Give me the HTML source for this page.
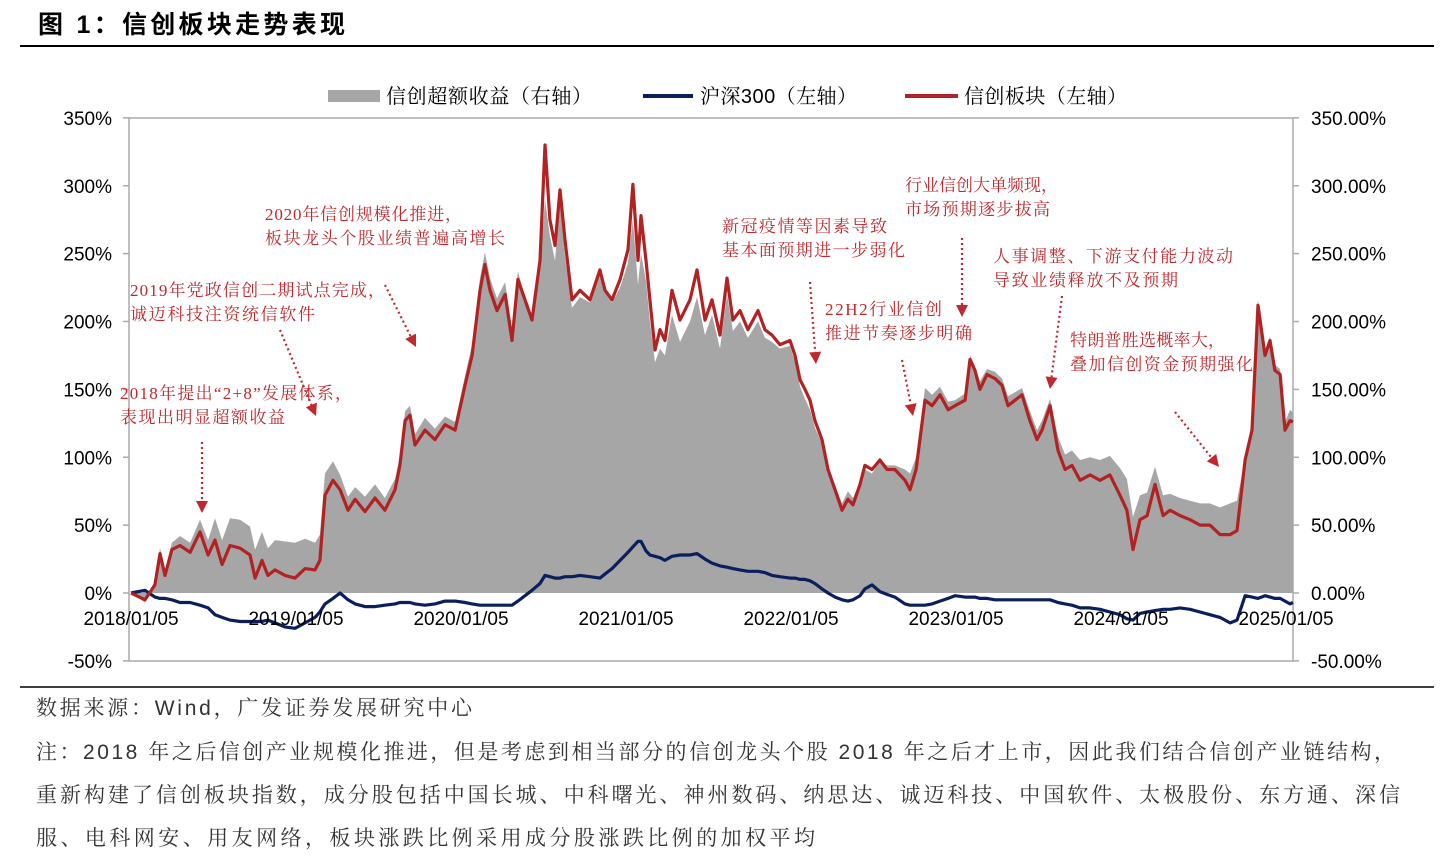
<!DOCTYPE html>
<html><head><meta charset="utf-8"><style>
body{margin:0;background:#fff;width:1444px;height:868px;overflow:hidden}
svg{display:block}
.ax{font-family:"Liberation Sans","Noto Sans CJK SC",sans-serif;font-size:19px;fill:#000}
.an{font-family:"Liberation Serif","Noto Serif CJK SC",serif;font-size:17px;fill:#c0282d}
.lg{font-family:"Liberation Sans","Noto Serif CJK SC",serif;font-size:20px;fill:#000}
.ft{font-family:"Liberation Sans","Noto Serif CJK SC",serif;font-size:21px;fill:#333}
</style></head><body>
<svg id="chart" width="1444" height="868">
<text x="38" y="33" textLength="307" lengthAdjust="spacing" style="font-family:'Liberation Sans','Noto Sans CJK SC',sans-serif;font-size:25px;font-weight:bold;fill:#000">图 1：信创板块走势表现</text>
<line x1="20" y1="46" x2="1434" y2="46" stroke="#000" stroke-width="2"/>
<g>
<rect x="328" y="90" width="52" height="12" fill="#a6a6a6"/>
<text class="lg" x="386" y="103" textLength="206" lengthAdjust="spacing">信创超额收益（右轴）</text>
<line x1="643" y1="96" x2="693" y2="96" stroke="#0b1f5c" stroke-width="4"/>
<text class="lg" x="700" y="103" textLength="157" lengthAdjust="spacing">沪深300（左轴）</text>
<line x1="905" y1="96" x2="958" y2="96" stroke="#b22222" stroke-width="4"/>
<text class="lg" x="964" y="103" textLength="163" lengthAdjust="spacing">信创板块（左轴）</text>
</g>
<g id="plot"></g>
<g id="notes"></g>
<line x1="20" y1="687" x2="1434" y2="687" stroke="#000" stroke-width="1.5"/>
<text class="ft" x="36" y="715" textLength="436" lengthAdjust="spacing">数据来源：Wind，广发证券发展研究中心</text>
<text class="ft" x="36" y="759" textLength="1359" lengthAdjust="spacing">注：2018 年之后信创产业规模化推进，但是考虑到相当部分的信创龙头个股 2018 年之后才上市，因此我们结合信创产业链结构，</text>
<text class="ft" x="36" y="802" textLength="1364" lengthAdjust="spacing">重新构建了信创板块指数，成分股包括中国长城、中科曙光、神州数码、纳思达、诚迈科技、中国软件、太极股份、东方通、深信</text>
<text class="ft" x="36" y="845" textLength="779" lengthAdjust="spacing">服、电科网安、用友网络，板块涨跌比例采用成分股涨跌比例的加权平均</text>
</svg>
<script>
const dates=[0,.085,.145,.176,.206,.248,.297,.358,.418,.467,
.509,.552,.600,.661,.721,.752,.794,.830,.873,.933,
.994,1.055,1.115,1.145,1.176,1.224,1.267,1.315,1.358,1.418,
1.479,1.539,1.600,1.630,1.661,1.691,1.721,1.782,1.842,1.903,
1.964,2.024,2.067,2.115,2.145,2.176,2.218,2.267,2.309,2.345,
2.388,2.430,2.479,2.509,2.539,2.570,2.600,2.630,2.673,2.721,
2.782,2.842,2.873,2.915,2.964,3.012,3.042,3.073,3.091,3.121,
3.145,3.176,3.206,3.236,3.279,3.327,3.388,3.430,3.479,3.521,
3.570,3.612,3.648,3.691,3.739,3.800,3.842,3.885,3.933,3.994,
4.024,4.055,4.085,4.115,4.145,4.188,4.224,4.267,4.309,4.345,
4.376,4.418,4.448,4.491,4.539,4.582,4.630,4.691,4.721,4.758,
4.812,4.855,4.903,4.952,4.994,5.055,5.085,5.115,5.145,5.188,
5.236,5.279,5.315,5.358,5.400,5.448,5.491,5.521,5.570,5.618,
5.661,5.703,5.752,5.812,5.873,5.933,5.994,6.036,6.073,6.115,
6.158,6.206,6.255,6.297,6.358,6.418,6.479,6.539,6.600,6.661,
6.703,6.752,6.794,6.830,6.873,6.903,6.933,6.964,6.994,7.024,7.042];
const xinchuang=[0,-5,6,29,13,32,35,30,45,28,
39,21,35,33,28,11,24,13,17,13,
11,18,17,24,72,83,76,61,69,60,
70,61,76,94,127,131,109,120,113,124,
120,153,175,223,242,223,208,220,186,231,
216,201,245,330,275,256,297,260,216,223,
216,238,223,216,231,253,301,245,278,245,
216,179,194,186,223,201,216,238,201,216,
190,232,201,208,194,208,194,190,183,186,
175,157,150,142,127,113,91,76,61,69,
65,80,94,91,98,91,91,83,76,91,
142,138,146,135,138,142,172,164,150,161,
158,153,138,142,146,127,113,120,138,105,
91,94,83,87,83,87,72,61,32,54,
57,80,57,61,57,54,50,50,43,43,
46,98,120,212,175,186,164,161,120,127,126];
const hs300=[0,2,-3,-4,-4,-5,-7,-7,-9,-11,
-16,-18,-20,-21,-21,-21,-21,-20,-22,-25,
-26,-22,-18,-14,-8,-4,0,-5,-8,-10,
-10,-9,-8,-7,-7,-7,-8,-9,-8,-6,
-6,-7,-8,-9,-9,-9,-9,-9,-9,-6,
-2,2,7,13,12,11,11,12,12,13,
12,11,14,18,24,30,34,38,38,31,
28,27,26,24,27,28,28,29,25,22,
20,19,18,17,16,16,15,13,12,11,
11,10,10,9,7,3,0,-3,-5,-6,
-5,-2,3,6,1,-1,-3,-8,-9,-9,
-9,-8,-6,-4,-2,-3,-3,-3,-4,-4,
-5,-5,-5,-5,-5,-5,-5,-5,-5,-7,
-8,-9,-11,-11,-12,-14,-16,-19,-20,-15,
-14,-13,-12,-12,-11,-12,-14,-16,-18,-22,
-20,-2,-3,-4,-2,-3,-4,-4,-6,-8,-7];
const excess=[0,-7,9,33,17,37,42,37,54,39,
55,39,55,54,49,32,45,33,39,38,
37,40,37,43,88,97,87,71,78,71,
80,70,84,101,134,138,117,129,121,130,
126,160,183,232,251,232,217,229,195,237,
218,199,238,290,263,245,286,248,210,218,
214,237,222,214,225,243,275,227,250,230,
200,170,180,175,205,185,200,218,190,205,
180,220,193,200,188,200,188,185,180,182,
170,152,143,135,122,110,92,79,66,75,
70,82,91,88,97,94,94,91,88,100,
151,146,152,141,142,147,175,167,156,165,
163,158,145,148,151,134,120,127,143,115,
102,105,98,100,98,101,92,84,56,72,
74,93,72,73,70,68,66,66,63,66,
68,100,123,216,177,189,168,165,126,135,133];
const leftTicks=["350%","300%","250%","200%","150%","100%","50%","0%","-50%"];
const rightTicks=["350.00%","300.00%","250.00%","200.00%","150.00%","100.00%","50.00%","0.00%","-50.00%"];
const tickValues=[350,300,250,200,150,100,50,0,-50];
const xLabels=["2018/01/05","2019/01/05","2020/01/05","2021/01/05","2022/01/05","2023/01/05","2024/01/05","2025/01/05"];
const xLabelYears=[0,1,2,3,4,5,6,7];

const NS="http://www.w3.org/2000/svg";
const X0=131,XS=165,Y0=593,YS=1.3575;
const xs=t=>X0+t*XS, ys=v=>Y0-v*YS;
const plot=document.getElementById('plot');
function mk(tag,attrs,parent){const e=document.createElementNS(NS,tag);for(const k in attrs)e.setAttribute(k,attrs[k]);(parent||plot).appendChild(e);return e;}

const frame=mk('rect',{x:129,y:118,width:1164,height:543,fill:'none',stroke:'#aaa','stroke-width':1.5});


tickValues.forEach((v,i)=>{
  const y=ys(v);
  const tl=mk('line',{x1:123,y1:y,x2:129,y2:y,stroke:'#aaa','stroke-width':1.5});
  
  
  const tr=mk('line',{x1:1293,y1:y,x2:1299,y2:y,stroke:'#aaa','stroke-width':1.5});
  
  
  const l=mk('text',{x:112,y:y+7,'text-anchor':'end',class:'ax'});l.textContent=leftTicks[i];
  
  
  const r=mk('text',{x:1311,y:y+7,class:'ax'});r.textContent=rightTicks[i];
  
  
});
let d='M'+xs(dates[0])+','+ys(0);
dates.forEach((t,i)=>{d+=' L'+xs(t).toFixed(1)+','+ys(excess[i]).toFixed(1);});
d+=' L'+xs(dates[dates.length-1])+','+ys(0)+' Z';
const area=mk('path',{d:d,fill:'#a6a6a6'});


function line(vals,color,name){
  const p=dates.map((t,i)=>xs(t).toFixed(1)+','+ys(vals[i]).toFixed(1)).join(' L');
  const e=mk('path',{d:'M'+p,fill:'none',stroke:color,'stroke-width':3.2,'stroke-linejoin':'round'});
  
  
}
line(hs300,'#0b1f5c','hs300-line');
line(xinchuang,'#b22222','xinchuang-line');
xLabelYears.forEach((yr,i)=>{
  const t=mk('text',{x:xs(yr),y:625,'text-anchor':'middle',class:'ax'});t.textContent=xLabels[i];
  
  
});

const notes=document.getElementById('notes');
const ann=[
 [265,220,["2020年信创规模化推进，","板块龙头个股业绩普遍高增长"],[197,240],[385,285,416,347]],
 [130,296,["2019年党政信创二期试点完成，","诚迈科技注资统信软件"],[255,185],[280,330,316,416]],
 [120,399,["2018年提出“2+8”发展体系，","表现出明显超额收益"],[232,165],[202,442,202,513]],
 [722,232,["新冠疫情等因素导致","基本面预期进一步弱化"],[165,183],[810,282,816,364]],
 [905,191,["行业信创大单频现，","市场预期逐步拔高"],[153,145],[962,238,962,317]],
 [825,315,["22H2行业信创","推进节奏逐步明确"],[117,147],[902,360,913,416]],
 [993,262,["人事调整、下游支付能力波动","导致业绩释放不及预期"],[240,185],[1062,296,1050,389]],
 [1070,346,["特朗普胜选概率大，","叠加信创资金预期强化"],[155,183],[1175,412,1219,467]]
];
ann.forEach(a=>{
  a[2].forEach((s,j)=>{
    const t=mk('text',{x:a[0],y:a[1]+j*24,class:'an',textLength:a[3][j],lengthAdjust:'spacing'},notes);t.textContent=s;
    
    
  });
  const [x1,y1,x2,y2]=a[4];
  const ang=Math.atan2(y2-y1,x2-x1);
  const bx=x2-12*Math.cos(ang),by=y2-12*Math.sin(ang);
  const l=mk('line',{x1:x1,y1:y1,x2:bx,y2:by,stroke:'#c0282d','stroke-width':2.2,'stroke-dasharray':'2 3'},notes);
  
  
  const px=-Math.sin(ang)*6,py=Math.cos(ang)*6;
  const h=mk('polygon',{points:`${x2},${y2} ${bx+px},${by+py} ${bx-px},${by-py}`,fill:'#c0282d'},notes);
  
  
});
</script>
</body></html>
